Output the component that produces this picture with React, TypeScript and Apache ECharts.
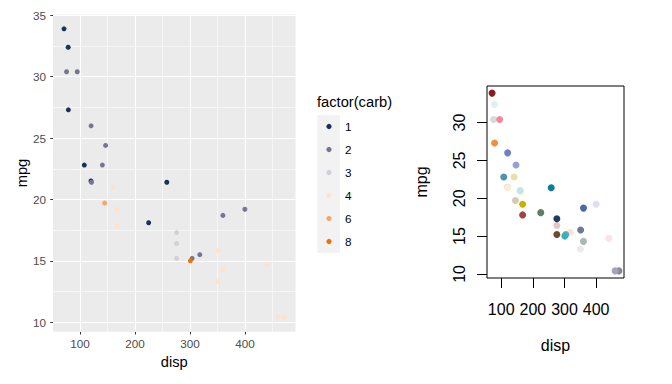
import React, { useEffect, useRef } from "react";
import * as echarts from "echarts";

// mtcars: disp, mpg, carb (row order)
const carNames = [
  "Mazda RX4", "Mazda RX4 Wag", "Datsun 710", "Hornet 4 Drive", "Hornet Sportabout", "Valiant",
  "Duster 360", "Merc 240D", "Merc 230", "Merc 280", "Merc 280C", "Merc 450SE", "Merc 450SL",
  "Merc 450SLC", "Cadillac Fleetwood", "Lincoln Continental", "Chrysler Imperial", "Fiat 128",
  "Honda Civic", "Toyota Corolla", "Toyota Corona", "Dodge Challenger", "AMC Javelin",
  "Camaro Z28", "Pontiac Firebird", "Fiat X1-9", "Porsche 914-2", "Lotus Europa",
  "Ford Pantera L", "Ferrari Dino", "Maserati Bora", "Volvo 142E",
];
const disp = [160, 160, 108, 258, 360, 225, 360, 146.7, 140.8, 167.6, 167.6, 275.8, 275.8, 275.8, 472, 460, 440, 78.7, 75.7, 71.1, 120.1, 318, 304, 350, 400, 79, 120.3, 95.1, 351, 145, 301, 121];
const mpg = [21, 21, 22.8, 21.4, 18.7, 18.1, 14.3, 24.4, 22.8, 19.2, 17.8, 16.4, 17.3, 15.2, 10.4, 10.4, 14.7, 32.4, 30.4, 33.9, 21.5, 15.5, 15.2, 13.3, 19.2, 27.3, 26, 30.4, 15.8, 19.7, 15, 21.4];
const carb = [4, 4, 1, 1, 2, 1, 4, 2, 2, 4, 4, 3, 3, 3, 4, 4, 4, 1, 2, 1, 1, 2, 2, 4, 2, 1, 2, 2, 4, 6, 8, 2];

const carbLevels = [1, 2, 3, 4, 6, 8];
const carbColors = ["#1B3358", "#76778F", "#D1D1DA", "#FDE3CE", "#F5A66A", "#EF7300"];

// per-point colours of the right-hand plot (row order)
const pointColors = [
  "#C8E6E6", "#C5E5E3", "#4F90B5", "#0B7A9C", "#4A66AD", "#5F7B6A", "#A9BAB3", "#96A0D6",
  "#E8E0A6", "#C6B300", "#A0423F", "#E6C8C0", "#213A63", "#6F4A2C", "#8A8A8A", "#A8A2B8",
  "#FBE0E4", "#DFF0F0", "#D9D9D9", "#8B1C22", "#F5CFCF", "#FDE3CC", "#6FA8C8", "#EBEBEB",
  "#DDE0F4", "#F0913A", "#6F7FC0", "#F0899A", "#707797", "#D8C8B8", "#33B3BA", "#F7F0D3",
];

const leftXTicks = [100, 200, 300, 400];
const leftXMinor = [150, 250, 350, 450];
const leftYTicks = [10, 15, 20, 25, 30, 35];
const leftYMinor = [12.5, 17.5, 22.5, 27.5, 32.5];
const rightXTicks = [100, 200, 300, 400];
const rightYTicks = [10, 15, 20, 25, 30];

const FONT = "Liberation Sans, Arial, sans-serif";

function expand(vals: number[], mult: number): [number, number] {
  const lo = Math.min(...vals);
  const hi = Math.max(...vals);
  const pad = (hi - lo) * mult;
  return [lo - pad, hi + pad];
}

export default function App() {
  const ref = useRef<HTMLDivElement>(null);
  useEffect(() => {
    if (!ref.current) return;
    const chart = echarts.init(ref.current, null, { renderer: "svg" });
    const [lxMin, lxMax] = expand(disp, 0.05);
    const [lyMin, lyMax] = expand(mpg, 0.05);
    const [rxMin, rxMax] = expand(disp, 0.04);
    const [ryMin, ryMax] = expand(mpg, 0.04);

    const leftPoints = disp.map((d, i) => ({
      value: [d, mpg[i]],
      name: carNames[i],
      itemStyle: { color: carbColors[carbLevels.indexOf(carb[i])], opacity: 1 },
    }));
    const rightPoints = disp.map((d, i) => ({
      value: [d, mpg[i]],
      name: carNames[i],
      itemStyle: { color: pointColors[i], opacity: 1 },
    }));

    const legendGraphics: any[] = [
      {
        type: "text",
        left: 317,
        top: 94,
        style: { text: "factor(carb)", font: `14.7px ${FONT}`, fill: "#000" },
      },
      {
        type: "rect",
        shape: { x: 317.3, y: 115, width: 22.7, height: 23 * carbLevels.length },
        style: { fill: "#F2F2F2" },
      },
    ];
    carbLevels.forEach((lv, i) => {
      const cy = 115 + 11.5 + 23 * i;
      legendGraphics.push({
        type: "circle",
        shape: { cx: 329, cy, r: 2.6 },
        style: { fill: carbColors[i] },
      });
      legendGraphics.push({
        type: "text",
        x: 345,
        y: cy,
        style: {
          text: String(lv),
          font: `11.7px ${FONT}`,
          fill: "#000",
          verticalAlign: "middle",
          align: "left",
        },
      });
    });

    const gridLine = (w: number) => ({ color: "#FFFFFF", width: w, type: "solid" as const });

    chart.setOption({
      animation: false,
      textStyle: { fontFamily: FONT },
      grid: [
        {
          left: 53,
          top: 14.4,
          width: 242.5,
          height: 317.3,
          show: true,
          backgroundColor: "#EBEBEB",
          borderWidth: 0,
        },
        {
          left: 487,
          top: 86,
          width: 137,
          height: 192,
          show: true,
          backgroundColor: "transparent",
          borderColor: "#000",
          borderWidth: 1,
        },
      ],
      xAxis: [
        {
          type: "value",
          gridIndex: 0,
          min: lxMin,
          max: lxMax,
          splitLine: { show: false },
          axisLine: { show: false },
          axisTick: { show: true, customValues: leftXTicks, length: 2.75, lineStyle: { color: "#333333" } },
          axisLabel: { customValues: leftXTicks, margin: 6, color: "#4D4D4D", fontSize: 11.7, fontFamily: FONT },
          name: "disp",
          nameLocation: "middle",
          nameGap: 22,
          nameTextStyle: { color: "#000", fontSize: 14.7, fontFamily: FONT },
        },
        {
          type: "value",
          gridIndex: 1,
          min: rxMin,
          max: rxMax,
          splitLine: { show: false },
          axisLine: { show: false },
          axisTick: { show: true, customValues: rightXTicks, length: 10, lineStyle: { color: "#000" } },
          axisLabel: { customValues: rightXTicks, margin: 23, color: "#000", fontSize: 16, fontFamily: FONT },
          name: "disp",
          nameLocation: "middle",
          nameGap: 59,
          nameTextStyle: { color: "#000", fontSize: 16, fontFamily: FONT },
        },
      ],
      yAxis: [
        {
          type: "value",
          gridIndex: 0,
          min: lyMin,
          max: lyMax,
          splitLine: { show: false },
          axisLine: { show: false },
          axisTick: { show: true, customValues: leftYTicks, length: 2.75, lineStyle: { color: "#333333" } },
          axisLabel: { customValues: leftYTicks, margin: 7, color: "#4D4D4D", fontSize: 11.7, fontFamily: FONT },
          name: "mpg",
          nameLocation: "middle",
          nameGap: 21,
          nameTextStyle: { color: "#000", fontSize: 14.7, fontFamily: FONT },
        },
        {
          type: "value",
          gridIndex: 1,
          min: ryMin,
          max: ryMax,
          splitLine: { show: false },
          axisLine: { show: false },
          axisTick: { show: true, customValues: rightYTicks, length: 10, lineStyle: { color: "#000" } },
          axisLabel: { customValues: rightYTicks, margin: 20, rotate: 90, color: "#000", fontSize: 16, fontFamily: FONT },
          name: "mpg",
          nameLocation: "middle",
          nameGap: 58,
          nameTextStyle: { color: "#000", fontSize: 16, fontFamily: FONT },
        },
      ],
      series: [
        {
          type: "scatter",
          xAxisIndex: 0,
          yAxisIndex: 0,
          data: [],
          z: 1,
          silent: true,
          markLine: {
            silent: true,
            symbol: "none",
            z: 1,
            label: { show: false },
            animation: false,
            data: [
              ...leftXMinor.map((v) => ({ xAxis: v, lineStyle: gridLine(0.55) })),
              ...leftYMinor.map((v) => ({ yAxis: v, lineStyle: gridLine(0.55) })),
              ...leftXTicks.map((v) => ({ xAxis: v, lineStyle: gridLine(1.1) })),
              ...leftYTicks.map((v) => ({ yAxis: v, lineStyle: gridLine(1.1) })),
            ],
          },
        },
        {
          type: "scatter",
          name: "left",
          xAxisIndex: 0,
          yAxisIndex: 0,
          z: 3,
          symbol: "circle",
          symbolSize: 5,
          itemStyle: { opacity: 1 },
          data: leftPoints,
        },
        {
          type: "scatter",
          name: "right",
          xAxisIndex: 1,
          yAxisIndex: 1,
          z: 3,
          symbol: "circle",
          symbolSize: 7,
          itemStyle: { opacity: 1 },
          data: rightPoints,
        },
      ],
      graphic: legendGraphics,
    });
    return () => chart.dispose();
  }, []);
  return (
    <div
      ref={ref}
      style={{ position: "absolute", left: 0, top: 0, width: 672, height: 384, background: "#fff" }}
    />
  );
}
